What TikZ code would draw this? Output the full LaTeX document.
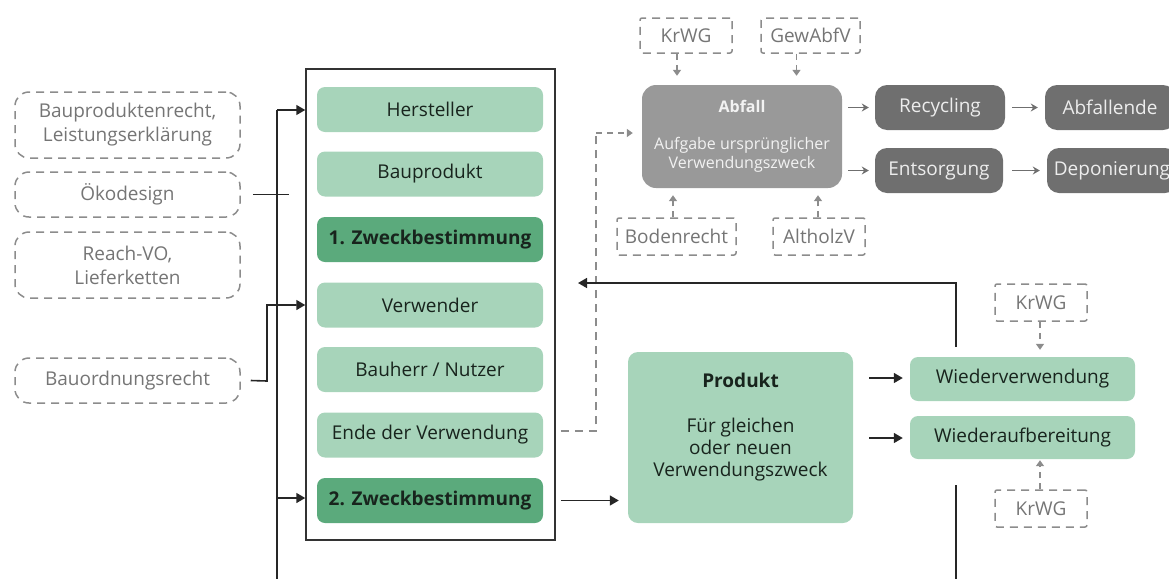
\documentclass[tikz,border=0pt]{standalone}
\usepackage{fontspec}
\setmainfont{Open Sans}
\usetikzlibrary{arrows.meta}
\definecolor{lgreen}{HTML}{A7D4BA}
\definecolor{dgreen}{HTML}{5BAA7C}
\definecolor{gboxc}{HTML}{999999}
\definecolor{dboxc}{HTML}{6F6F6F}
\definecolor{dashc}{HTML}{8C8C8C}
\definecolor{dtext}{HTML}{757575}
\definecolor{gtext}{HTML}{18241D}
\begin{document}
\begin{tikzpicture}[x=1pt,y=-1pt,
 every node/.style={font=\fontsize{19}{24}\selectfont, inner sep=0pt, align=center},
 lawbox/.style={draw=dashc, line width=1.5pt, dash pattern=on 8pt off 6pt, rounded corners=14pt, text=dtext, minimum width=225pt},
 regbox/.style={draw=dashc, line width=1.5pt, dash pattern=on 8pt off 6pt, rounded corners=2pt, text=dtext, minimum height=36pt},
 gbox/.style={fill=lgreen, rounded corners=8pt, text=gtext, minimum width=226pt, minimum height=45pt},
 dgbox/.style={gbox, fill=dgreen, font=\fontsize{19}{24}\selectfont\bfseries},
 graybox/.style={fill=dboxc, rounded corners=12pt, text=white!93!black, minimum height=45pt},
 conn/.style={line width=1.6pt, draw=black!85},
 arr/.style={conn, -{Triangle[length=9pt,width=10pt]}},
 darr/.style={draw=dashc, line width=1.5pt, dash pattern=on 6pt off 5pt, -{Triangle[length=6pt,width=8pt]}},
 garr/.style={draw=dboxc, line width=1.5pt, -{Stealth[length=7pt,width=8pt]}},
]
\useasboundingbox (0,0) rectangle (1169,579);

% left legal boxes
\node[lawbox, minimum height=66pt] (law1) at (127.5,125) {Bauproduktenrecht,\\Leistungserklärung};
\node[lawbox, minimum height=45pt] (law2) at (127.5,194.5) {Ökodesign};
\node[lawbox, minimum height=66pt] (law3) at (127.5,265) {Reach-VO,\\Lieferketten};
\node[lawbox, minimum height=45pt] (law4) at (127.5,380.5) {Bauordnungsrecht};

% main frame
\node[draw=black!80, line width=1.5pt, minimum width=249pt, minimum height=471pt] (frame) at (430.5,304.5) {};
\node[gbox] (hersteller) at (430,109.5) {Hersteller};
\node[gbox] (bauprodukt) at (430,174) {Bauprodukt};
\node[dgbox] (zweck1) at (430,239.5) {1. Zweckbestimmung};
\node[gbox] (verwender) at (430,305) {Verwender};
\node[gbox] (bauherr) at (430,369.5) {Bauherr / Nutzer};
\node[gbox] (ende) at (430,435) {Ende der Verwendung};
\node[dgbox] (zweck2) at (430,500.5) {2. Zweckbestimmung};

% Abfall
\node[fill=gboxc, rounded corners=14pt, minimum width=200pt, minimum height=103pt, text=white!95!black, font=\fontsize{16}{19}\selectfont] (abfall) at (742,136.5) {\textbf{Abfall}\\[18pt]Aufgabe ursprünglicher\\Verwendungszweck};
\node[regbox, minimum width=92pt, minimum height=35pt] (krwg1) at (686,35.5) {KrWG};
\node[regbox, minimum width=99pt, minimum height=35pt] (gewabfv) at (810.5,35.5) {GewAbfV};
\node[regbox, minimum width=119pt, minimum height=37pt] (boden) at (676.5,236.5) {Bodenrecht};
\node[regbox, minimum width=92pt, minimum height=37pt] (altholz) at (819,236.5) {AltholzV};

\node[graybox, minimum width=130pt] (recycling) at (940,107.5) {Recycling};
\node[graybox, minimum width=128pt] (entsorgung) at (939,170.5) {Entsorgung};
\node[graybox, minimum width=130pt] (abfallende) at (1110,107.5) {Abfallende};
\node[graybox, minimum width=130pt] (deponierung) at (1112,170.5) {Deponierung};

% Produkt
\node[fill=lgreen, rounded corners=10pt, minimum width=225pt, minimum height=171pt] (produkt) at (740.5,437.5) {};
\node[text=gtext, font=\fontsize{19}{22}\selectfont] (produktT) at (740.5,427.5) {\textbf{Produkt}\\[23pt]Für gleichen\\oder neuen\\Verwendungszweck};

\node[gbox, minimum width=225pt, minimum height=44pt] (wiederv) at (1022.5,379) {Wiederverwendung};
\node[gbox, minimum width=225pt, minimum height=43pt] (wiedera) at (1022.5,437.5) {Wiederaufbereitung};
\node[regbox, minimum width=92pt, minimum height=37pt] (krwg3) at (1041,302.5) {KrWG};
\node[regbox, minimum width=92pt, minimum height=37pt] (krwg4) at (1041,508.5) {KrWG};

% coordinates
\coordinate (vTop) at (277,110);
\coordinate (vBot) at (277,579);
\coordinate (vMid) at (277,498);
\coordinate (bauJ) at (267,381);
\coordinate (loopA) at (956,347);
\coordinate (loopTurn) at (956,283);
\coordinate (loopEnd) at (578,283);
\coordinate (loopB) at (956,485);
\coordinate (loopC) at (956,579);
\coordinate (dashA) at (596,431);
\coordinate (dashB) at (596,133);

% left connectors
\draw[conn] (vTop) -- (vBot);
\draw[arr] (vTop) -- (vTop -| frame.west);
\draw[arr] (vMid) -- (vMid -| frame.west);
\draw[conn] ([xshift=12pt]law2.east) -- ([xshift=48pt]law2.east);
\draw[arr] ([xshift=10pt]law4.east) -- (bauJ) |- (verwender.west -| frame.west);

% right connectors
\draw[arr] ([xshift=5pt]frame.east |- zweck2) -- (produkt.west |- zweck2) [shorten >=9pt];
\draw[conn, dash pattern=on 8pt off 6pt, draw=dashc, line width=1.4pt] ([xshift=5pt]frame.east |- dashA) -- (dashA) -- (dashB);
\draw[darr] (dashB) -- ([xshift=-9pt]abfall.west |- dashB);
\draw[darr] ([xshift=-9pt]krwg1.south) -- ([xshift=-9pt,yshift=9pt]krwg1.south |- abfall.north);
\draw[darr] ([xshift=-14pt]gewabfv.south) -- ([xshift=-14pt,yshift=9pt]gewabfv.south |- abfall.north);
\draw[darr] ([xshift=-3.5pt]boden.north) -- ([xshift=-3.5pt,yshift=-7pt]boden.north |- abfall.south);
\draw[darr] ([xshift=-1pt]altholz.north) -- ([xshift=-1pt,yshift=-7pt]altholz.north |- abfall.south);
\draw[garr] ([xshift=6pt]abfall.east |- recycling) -- ([xshift=-6pt]recycling.west);
\draw[garr] ([xshift=6pt]abfall.east |- entsorgung) -- ([xshift=-6pt]entsorgung.west |- entsorgung);
\draw[garr] ([xshift=7pt]recycling.east) -- ([xshift=-7pt]abfallende.west);
\draw[garr] ([xshift=9pt]entsorgung.east) -- ([xshift=-7pt]deponierung.west);

\draw[arr] ([xshift=16pt]produkt.east |- 0,378) -- ([xshift=-7pt]wiederv.west |- 0,378);
\draw[arr] ([xshift=16pt]produkt.east |- 0,438) -- ([xshift=-7pt]wiedera.west |- 0,438);
\draw[darr] ([xshift=-1pt]krwg3.south) -- ([xshift=-1pt,yshift=7pt]krwg3.south |- wiederv.north);
\draw[darr] ([xshift=-1pt]krwg4.north) -- ([xshift=-1pt,yshift=-1pt]krwg4.north |- wiedera.south);

\draw[arr] (loopA) -- (loopTurn) -- (loopEnd);
\draw[conn] (loopB) -- (loopC);
\end{tikzpicture}
\end{document}
